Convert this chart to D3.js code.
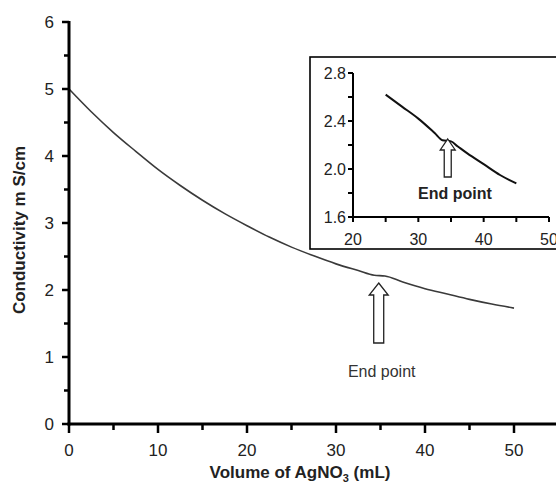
<!DOCTYPE html>
<html>
<head>
<meta charset="utf-8">
<script src="https://cdn.jsdelivr.net/npm/d3@7"></script>
<style>
  body { margin: 0; background: #fff; }
  svg { display: block; font-family: "Liberation Sans", Arial, sans-serif; }
</style>
</head>
<body>
<div class="chart"></div>
<script>
// titration curve, conductivity vs volume of AgNO3
var volume = [0, 2.5, 5, 7.5, 10, 12.5, 15, 17.5, 20, 22.5, 25, 27.5, 30, 32.5, 34.3, 35.5, 37.5, 40, 42.5, 45, 47.5, 50];
var conductivity = [5.00, 4.66, 4.35, 4.07, 3.80, 3.56, 3.34, 3.14, 2.96, 2.79, 2.64, 2.51, 2.39, 2.29, 2.22, 2.21, 2.12, 2.02, 1.94, 1.86, 1.79, 1.73];

// zoomed view around the end point
var insetVolume = [25, 27.5, 30, 32.5, 33.7, 35.0, 36.0, 37.5, 40, 42.5, 45];
var insetConductivity = [2.62, 2.52, 2.42, 2.30, 2.24, 2.23, 2.19, 2.13, 2.04, 1.95, 1.88];

var xTicks = [0, 10, 20, 30, 40, 50];
var yTicks = [0, 1, 2, 3, 4, 5, 6];
var insetXTicks = [20, 30, 40, 50];
var insetYTicks = [1.6, 2.0, 2.4, 2.8];
var endPoint = 34.8, insetEndPoint = 34.5;

var width = 556, height = 484;

var svg = d3.select(".chart").append("svg")
    .attr("width", width)
    .attr("height", height);

var x = d3.scaleLinear().domain([0, 55]).range([69, 558.5]);
var y = d3.scaleLinear().domain([0, 6]).range([424, 22]);

var pts = volume.map(function(v, i) { return [v, conductivity[i]]; });
var line = d3.line()
    .x(function(d) { return x(d[0]); })
    .y(function(d) { return y(d[1]); })
    .curve(d3.curveMonotoneX);

svg.append("path")
  .datum(pts)
  .attr("d", line)
  .attr("fill", "none")
  .attr("stroke", "#3a3a3a")
  .attr("stroke-width", 1.6);

// axes
var xAxis = svg.append("g").attr("transform", "translate(0," + y(0) + ")");
xAxis.append("line")
  .attr("x1", x(0) - 1.5).attr("x2", width)
  .attr("stroke", "#000").attr("stroke-width", 3);
xAxis.selectAll(".minor")
  .data(d3.range(5, 56, 10))
  .enter().append("line")
    .attr("x1", function(d) { return x(d); })
    .attr("x2", function(d) { return x(d); })
    .attr("y2", 6)
    .attr("stroke", "#000").attr("stroke-width", 2.5);
xAxis.selectAll(".major")
  .data(xTicks)
  .enter().append("line")
    .attr("x1", function(d) { return x(d); })
    .attr("x2", function(d) { return x(d); })
    .attr("y2", 9)
    .attr("stroke", "#000").attr("stroke-width", 2.5);
xAxis.selectAll("text")
  .data(xTicks)
  .enter().append("text")
    .attr("x", function(d) { return x(d); })
    .attr("y", 32)
    .style("text-anchor", "middle")
    .style("font-size", "17px")
    .attr("fill", "#222")
    .text(function(d) { return d; });

var yAxis = svg.append("g").attr("transform", "translate(" + x(0) + ",0)");
yAxis.append("line")
  .attr("y1", y(6) - 1).attr("y2", y(0) + 1.5)
  .attr("stroke", "#000").attr("stroke-width", 3);
yAxis.selectAll(".minor")
  .data(d3.range(0.5, 6, 1))
  .enter().append("line")
    .attr("y1", function(d) { return y(d); })
    .attr("y2", function(d) { return y(d); })
    .attr("x2", -5)
    .attr("stroke", "#000").attr("stroke-width", 2.5);
yAxis.selectAll(".major")
  .data(yTicks)
  .enter().append("line")
    .attr("y1", function(d) { return y(d); })
    .attr("y2", function(d) { return y(d); })
    .attr("x2", -7)
    .attr("stroke", "#000").attr("stroke-width", 2.5);
yAxis.selectAll("text")
  .data(yTicks)
  .enter().append("text")
    .attr("x", -15)
    .attr("y", function(d) { return y(d) + 6; })
    .style("text-anchor", "end")
    .style("font-size", "17px")
    .attr("fill", "#222")
    .text(function(d) { return d; });

// axis titles
var xTitle = svg.append("text")
  .attr("x", 300).attr("y", 478)
  .style("text-anchor", "middle")
  .style("font-size", "17px")
  .style("font-weight", "bold")
  .attr("fill", "#222");
xTitle.append("tspan").text("Volume of AgNO");
xTitle.append("tspan").attr("dy", 4).style("font-size", "11px").text("3");
xTitle.append("tspan").attr("dy", -4).text("  (mL)");

svg.append("text")
  .attr("transform", "translate(25,230) rotate(-90)")
  .style("text-anchor", "middle")
  .style("font-size", "17px")
  .style("font-weight", "bold")
  .attr("fill", "#222")
  .text("Conductivity m S/cm");

// hollow arrow + label
function arrow(g, cx, tip, bottom, headW, shaftW, headH) {
  var p = [
    [cx, tip], [cx + headW / 2, tip + headH], [cx + shaftW / 2, tip + headH],
    [cx + shaftW / 2, bottom], [cx - shaftW / 2, bottom], [cx - shaftW / 2, tip + headH],
    [cx - headW / 2, tip + headH]
  ];
  g.append("path")
    .attr("d", "M" + p.join("L") + "Z")
    .attr("fill", "#fff")
    .attr("stroke", "#222")
    .attr("stroke-width", 1.3);
}

arrow(svg, x(endPoint), 283, 343, 19, 10, 12);
svg.append("text")
  .attr("x", x(endPoint) + 3).attr("y", 377)
  .style("text-anchor", "middle")
  .style("font-size", "16px")
  .attr("fill", "#333")
  .text("End point");

// inset
var inset = svg.append("g");
inset.append("rect")
  .attr("x", 310).attr("y", 57)
  .attr("width", 260).attr("height", 192)
  .attr("fill", "#fff")
  .attr("stroke", "#000").attr("stroke-width", 1.6);

var ix = d3.scaleLinear().domain([20, 50]).range([353, 549]);
var iy = d3.scaleLinear().domain([1.6, 2.8]).range([217, 73]);

inset.append("line")
  .attr("x1", ix(20)).attr("x2", ix(50))
  .attr("y1", iy(1.6)).attr("y2", iy(1.6))
  .attr("stroke", "#000").attr("stroke-width", 2);
inset.append("line")
  .attr("x1", ix(20)).attr("x2", ix(20))
  .attr("y1", iy(2.8)).attr("y2", iy(1.6) + 1)
  .attr("stroke", "#000").attr("stroke-width", 2);

inset.selectAll(".ixt")
  .data(d3.range(20, 51, 5))
  .enter().append("line")
    .attr("x1", function(d) { return ix(d); })
    .attr("x2", function(d) { return ix(d); })
    .attr("y1", iy(1.6))
    .attr("y2", iy(1.6) + 5)
    .attr("stroke", "#000").attr("stroke-width", 2);
inset.selectAll(".iyt")
  .data(d3.range(1.6, 2.81, 0.2))
  .enter().append("line")
    .attr("y1", function(d) { return iy(d); })
    .attr("y2", function(d) { return iy(d); })
    .attr("x1", ix(20))
    .attr("x2", ix(20) - 5)
    .attr("stroke", "#000").attr("stroke-width", 2);

inset.selectAll(".ixl")
  .data(insetXTicks)
  .enter().append("text")
    .attr("x", function(d) { return ix(d); })
    .attr("y", 245)
    .style("text-anchor", "middle")
    .style("font-size", "16px")
    .attr("fill", "#222")
    .text(function(d) { return d; });
inset.selectAll(".iyl")
  .data(insetYTicks)
  .enter().append("text")
    .attr("x", ix(20) - 7)
    .attr("y", function(d) { return iy(d) + 6; })
    .style("text-anchor", "end")
    .style("font-size", "16px")
    .attr("fill", "#222")
    .text(function(d) { return d.toFixed(1); });

var ipts = insetVolume.map(function(v, i) { return [v, insetConductivity[i]]; });
inset.append("path")
  .datum(ipts)
  .attr("d", d3.line()
    .x(function(d) { return ix(d[0]); })
    .y(function(d) { return iy(d[1]); })
    .curve(d3.curveMonotoneX))
  .attr("fill", "none")
  .attr("stroke", "#111")
  .attr("stroke-width", 2);

arrow(inset, ix(insetEndPoint), 139, 177, 15, 7, 11);
inset.append("text")
  .attr("x", 455).attr("y", 199)
  .style("text-anchor", "middle")
  .style("font-size", "16px")
  .style("font-weight", "bold")
  .attr("fill", "#222")
  .text("End point");
</script>
</body>
</html>
